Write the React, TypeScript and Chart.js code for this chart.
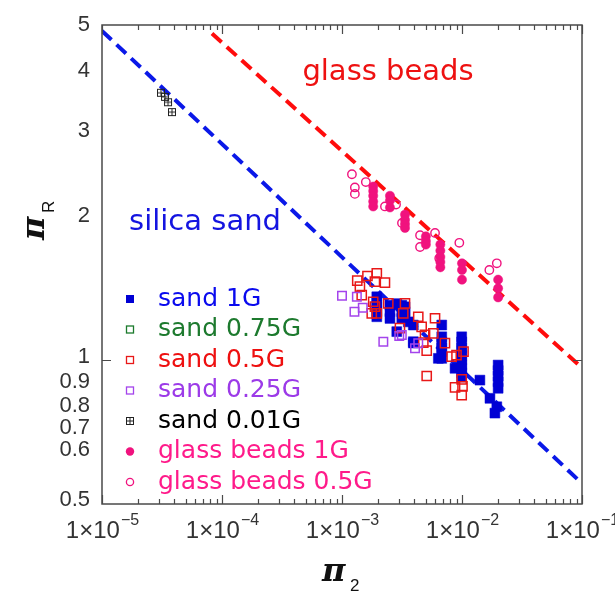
import React, { useEffect, useRef } from 'react';
import { Chart, registerables } from 'chart.js';
Chart.register(...registerables);

// ---- axis ranges / ticks ----
const X_MIN = 1e-5;
const X_MAX = 1e-1;
const Y_MIN = 0.5;
const Y_MAX = 5;
const xTickExponents = [-5, -4, -3, -2, -1];
const yTickLabels = [5, 4, 3, 2, 1, 0.9, 0.8, 0.7, 0.6, 0.5];

// ---- series ----
const sand1G_x = [1.95e-3, 1.95e-3, 1.95e-3, 1.95e-3, 1.95e-3, 2.51e-3, 2.51e-3, 2.51e-3, 2.86e-3, 2.86e-3, 3.15e-3, 3.15e-3, 3.15e-3, 3.35e-3, 3.35e-3, 3.35e-3, 3.57e-3, 3.93e-3, 3.93e-3, 3.93e-3, 6.78e-3, 6.78e-3, 6.78e-3, 6.78e-3, 6.78e-3, 6.78e-3, 6.35e-3, 9.94e-3, 9.94e-3, 9.94e-3, 9.94e-3, 9.94e-3, 9.94e-3, 9.94e-3, 9.94e-3, 9.94e-3, 9.94e-3, 8.75e-3, 1.41e-2, 2.0e-2, 2.0e-2, 2.0e-2, 2.0e-2, 2.0e-2, 1.71e-2, 1.95e-2, 1.88e-2];
const sand1G_y = [1.354, 1.32, 1.29, 1.26, 1.23, 1.30, 1.26, 1.22, 1.31, 1.145, 1.30, 1.26, 1.22, 1.29, 1.26, 1.23, 1.20, 1.182, 1.091, 1.084, 1.182, 1.117, 1.09, 1.06, 1.04, 1.007, 1.007, 1.117, 1.09, 1.06, 1.04, 1.02, 1.0, 0.975, 0.96, 0.94, 0.921, 0.96, 0.907, 0.975, 0.95, 0.925, 0.90, 0.872, 0.831, 0.798, 0.774];

const sand075G_x: number[] = [];
const sand075G_y: number[] = [];

const sand05G_x = [1.34e-3, 1.63e-3, 1.95e-3, 2.28e-3, 1.41e-3, 1.46e-3, 1.88e-3, 1.82e-3, 1.88e-3, 1.77e-3, 1.95e-3, 2.43e-3, 3.35e-3, 3.24e-3, 3.04e-3, 4.32e-3, 5.96e-3, 4.61e-3, 5.77e-3, 4.92e-3, 5.08e-3, 7.21e-3, 8.2e-3, 9.0e-3, 1.03e-2, 5.08e-3, 9.94e-3, 8.75e-3, 1.01e-2, 9.94e-3, 4.76e-3];
const sand05G_y = [1.463, 1.496, 1.516, 1.449, 1.421, 1.365, 1.456, 1.322, 1.291, 1.25, 1.25, 1.312, 1.312, 1.25, 1.164, 1.23, 1.221, 1.172, 1.136, 1.127, 1.045, 1.083, 1.015, 1.023, 1.04, 0.925, 0.91, 0.876, 0.88, 0.844, 1.086];

const sand025G_x = [1.0e-3, 1.33e-3, 1.27e-3, 1.49e-3, 2.21e-3, 3.0e-3, 4.06e-3, 4.32e-3, 3.15e-3];
const sand025G_y = [1.361, 1.354, 1.26, 1.284, 1.091, 1.121, 1.057, 1.083, 1.127];

const sand001G_x = [3.10e-5, 3.35e-5, 3.55e-5, 3.83e-5];
const sand001G_y = [3.61, 3.54, 3.45, 3.29];

const glass1G_x = [1.82e-3, 1.82e-3, 1.82e-3, 1.82e-3, 1.82e-3, 2.51e-3, 2.51e-3, 2.51e-3, 3.35e-3, 3.35e-3, 3.35e-3, 3.35e-3, 5.0e-3, 5.0e-3, 5.0e-3, 6.6e-3, 6.6e-3, 6.6e-3, 6.6e-3, 6.6e-3, 1.0e-2, 1.0e-2, 1.0e-2, 2.0e-2, 2.0e-2, 2.0e-2];
const glass1G_y = [2.30, 2.25, 2.20, 2.14, 2.09, 2.20, 2.15, 2.08, 2.01, 1.96, 1.92, 1.885, 1.81, 1.77, 1.74, 1.74, 1.69, 1.64, 1.60, 1.56, 1.59, 1.54, 1.47, 1.47, 1.41, 1.35];

const glass05G_x = [1.21e-3, 1.58e-3, 1.28e-3, 1.28e-3, 2.28e-3, 2.82e-3, 3.16e-3, 4.47e-3, 4.47e-3, 5.96e-3, 6.46e-3, 9.5e-3, 1.69e-2, 1.95e-2];
const glass05G_y = [2.44, 2.35, 2.29, 2.22, 2.09, 2.11, 1.93, 1.82, 1.72, 1.84, 1.63, 1.755, 1.54, 1.59];

// fit lines (end points)
const sandLine_x = [1e-5, 1e-1];
const sandLine_y = [4.86, 0.552];
const glassLine_x = [8.25e-5, 1e-1];
const glassLine_y = [4.8, 0.962];

const legendLabels = ['sand 1G', 'sand 0.75G', 'sand 0.5G', 'sand 0.25G', 'sand 0.01G', 'glass beads 1G', 'glass beads 0.5G'];

const pts = (xs: number[], ys: number[]) => xs.map((x, i) => ({ x, y: ys[i] }));

function boxedPlus(size: number, color: string) {
  const c = document.createElement('canvas');
  c.width = size + 2;
  c.height = size + 2;
  const g = c.getContext('2d')!;
  g.strokeStyle = color;
  g.lineWidth = 1;
  const o = 1.5;
  const s = size - 1;
  g.strokeRect(o, o, s, s);
  g.beginPath();
  g.moveTo(o + s / 2, o);
  g.lineTo(o + s / 2, o + s);
  g.moveTo(o, o + s / 2);
  g.lineTo(o + s, o + s / 2);
  g.stroke();
  return c;
}

const COL = {
  s1: '#0000d4',
  s075: '#1b7a2c',
  s05: '#e81818',
  s025: '#a444ec',
  gb: '#f0127e',
  blueLine: '#0a18e8',
  redLine: '#ff0c0c',
};
const TEXT_COL = {
  s1: '#0a0aee',
  s075: '#1d7a2e',
  s05: '#ee1010',
  s025: '#9c3ae8',
  s001: '#000000',
  gb: '#ff1a8a',
};

export default function App() {
  const ref = useRef<HTMLCanvasElement | null>(null);
  useEffect(() => {
    document.body.style.margin = '0';
    const canvas = ref.current!;
    const plusImg = boxedPlus(8, '#222');

    const legendItems = [
      { label: legendLabels[0], kind: 'rectFill', color: COL.s1, text: TEXT_COL.s1 },
      { label: legendLabels[1], kind: 'rect', color: COL.s075, text: TEXT_COL.s075 },
      { label: legendLabels[2], kind: 'rect', color: COL.s05, text: TEXT_COL.s05 },
      { label: legendLabels[3], kind: 'rect', color: COL.s025, text: TEXT_COL.s025 },
      { label: legendLabels[4], kind: 'plus', color: '#222', text: TEXT_COL.s001 },
      { label: legendLabels[5], kind: 'circFill', color: COL.gb, text: TEXT_COL.gb },
      { label: legendLabels[6], kind: 'circ', color: COL.gb, text: TEXT_COL.gb },
    ];

    const decor = {
      id: 'decor',
      afterDatasetsDraw(chart: any) {
        const { ctx, chartArea, scales } = chart;
        const { left, right, top, bottom } = chartArea;
        const xs = scales.x;
        const ys = scales.y;
        ctx.save();
        // frame
        ctx.strokeStyle = '#4a4a4a';
        ctx.lineWidth = 1.5;
        ctx.strokeRect(left, top, right - left, bottom - top);
        // x ticks (inward, top & bottom)
        ctx.lineWidth = 1.2;
        ctx.beginPath();
        for (const e of xTickExponents) {
          for (let m = 1; m <= 9; m++) {
            const v = m * Math.pow(10, e);
            if (v > X_MAX * 1.0001) break;
            const px = Math.round(xs.getPixelForValue(v)) + 0.5;
            const len = m === 1 ? 9 : 5;
            ctx.moveTo(px, bottom);
            ctx.lineTo(px, bottom - len);
            ctx.moveTo(px, top);
            ctx.lineTo(px, top + len);
          }
        }
        // y tick at 1
        const p1 = Math.round(ys.getPixelForValue(1)) + 0.5;
        ctx.moveTo(left, p1);
        ctx.lineTo(left + 9, p1);
        ctx.moveTo(right, p1);
        ctx.lineTo(right - 9, p1);
        ctx.stroke();

        // y tick labels (small-value labels are stacked evenly below "0.8" as in the source figure)
        ctx.fillStyle = '#333';
        ctx.font = '22px "Liberation Sans", Arial, sans-serif';
        ctx.textAlign = 'right';
        ctx.textBaseline = 'middle';
        const p08 = ys.getPixelForValue(0.8);
        for (const v of yTickLabels) {
          let py = ys.getPixelForValue(v);
          if (v === 0.7) py = p08 + 22;
          if (v === 0.6) py = p08 + 44;
          if (v === 0.5) py = bottom - 4;
          if (v === 1) py -= 3;
          ctx.fillText(String(v), left - 12, py);
        }
        // x tick labels 1x10^e
        for (const e of xTickExponents) {
          const px = xs.getPixelForValue(Math.pow(10, e));
          ctx.font = '24px "Liberation Sans", Arial, sans-serif';
          const main = '1\u00d710';
          const w1 = ctx.measureText(main).width;
          ctx.font = '16px "Liberation Sans", Arial, sans-serif';
          const sup = '\u2212' + String(-e);
          const w2 = ctx.measureText(sup).width;
          const x0 = px - (w1 + w2) / 2;
          ctx.textAlign = 'left';
          ctx.font = '24px "Liberation Sans", Arial, sans-serif';
          ctx.fillText(main, x0, bottom + 27);
          ctx.font = '16px "Liberation Sans", Arial, sans-serif';
          ctx.fillText(sup, x0 + w1 + 1, bottom + 17);
        }

        // axis titles
        ctx.fillStyle = '#111';
        ctx.textAlign = 'left';
        ctx.font = 'italic bold 32px "DejaVu Serif", serif';
        ctx.fillText('\u03c0', 322, 573);
        ctx.font = '17px "Liberation Sans", Arial, sans-serif';
        ctx.fillText('2', 350, 586);
        ctx.save();
        ctx.translate(36, 240);
        ctx.rotate(-Math.PI / 2);
        ctx.font = 'italic bold 32px "DejaVu Serif", serif';
        ctx.fillText('\u03c0', 0, 0);
        ctx.font = '17px "Liberation Sans", Arial, sans-serif';
        ctx.fillText('R', 27, 13);
        ctx.restore();

        // annotations
        ctx.textAlign = 'center';
        ctx.textBaseline = 'middle';
        ctx.font = '29px "DejaVu Sans", sans-serif';
        ctx.fillStyle = '#ee1111';
        ctx.fillText('glass beads', 388, 72);
        ctx.fillStyle = '#1414e0';
        ctx.fillText('silica sand', 205, 222);

        // legend
        const rowY0 = 299;
        const rowH = 30.5;
        legendItems.forEach((it, i) => {
          const y = rowY0 + i * rowH;
          const mx = 130;
          ctx.lineWidth = 1.3;
          if (it.kind === 'rectFill') {
            ctx.fillStyle = it.color;
            ctx.fillRect(mx - 4, y - 4, 8, 8);
          } else if (it.kind === 'rect') {
            ctx.strokeStyle = it.color;
            ctx.strokeRect(mx - 3.5, y - 3.5, 7, 7);
          } else if (it.kind === 'plus') {
            ctx.drawImage(plusImg, mx - 5, y - 5);
          } else if (it.kind === 'circFill') {
            ctx.fillStyle = it.color;
            ctx.beginPath();
            ctx.arc(mx, y, 4.2, 0, Math.PI * 2);
            ctx.fill();
          } else {
            ctx.strokeStyle = it.color;
            ctx.beginPath();
            ctx.arc(mx, y, 3.6, 0, Math.PI * 2);
            ctx.stroke();
          }
          ctx.fillStyle = it.text;
          ctx.textAlign = 'left';
          ctx.textBaseline = 'middle';
          ctx.font = '25px "DejaVu Sans", sans-serif';
          ctx.fillText(it.label, 158, y);
        });
        ctx.restore();
      },
    };

    const chart = new Chart(canvas, {
      type: 'scatter',
      data: {
        datasets: [
          { label: 'sand fit', data: pts(sandLine_x, sandLine_y), showLine: true, borderColor: COL.blueLine, borderWidth: 4, borderDash: [13, 7], pointRadius: 0, order: 10 } as any,
          { label: 'glass fit', data: pts(glassLine_x, glassLine_y), showLine: true, borderColor: COL.redLine, borderWidth: 4, borderDash: [13, 7], pointRadius: 0, order: 10 } as any,
          { label: legendLabels[0], data: pts(sand1G_x, sand1G_y), pointStyle: 'rect', pointRadius: 7, backgroundColor: COL.s1, borderColor: COL.s1, borderWidth: 0.5, order: 5 },
          { label: legendLabels[1], data: pts(sand075G_x, sand075G_y), pointStyle: 'rect', pointRadius: 6.5, backgroundColor: 'rgba(0,0,0,0)', borderColor: COL.s075, borderWidth: 1.5, order: 4 },
          { label: legendLabels[2], data: pts(sand05G_x, sand05G_y), pointStyle: 'rect', pointRadius: 6.5, backgroundColor: 'rgba(0,0,0,0)', borderColor: COL.s05, borderWidth: 1.5, order: 3 },
          { label: legendLabels[3], data: pts(sand025G_x, sand025G_y), pointStyle: 'rect', pointRadius: 6, backgroundColor: 'rgba(0,0,0,0)', borderColor: COL.s025, borderWidth: 1.5, order: 2 },
          { label: legendLabels[4], data: pts(sand001G_x, sand001G_y), pointStyle: plusImg as any, pointRadius: 5, order: 1 },
          { label: legendLabels[5], data: pts(glass1G_x, glass1G_y), pointStyle: 'circle', pointRadius: 4.6, backgroundColor: COL.gb, borderColor: COL.gb, borderWidth: 0.5, order: 6 },
          { label: legendLabels[6], data: pts(glass05G_x, glass05G_y), pointStyle: 'circle', pointRadius: 4.2, backgroundColor: 'rgba(0,0,0,0)', borderColor: COL.gb, borderWidth: 1.4, order: 7 },
        ],
      },
      options: {
        animation: false,
        responsive: false,
        devicePixelRatio: 1,
        layout: { padding: { top: 25, right: 33, left: 0, bottom: 0 } },
        plugins: { legend: { display: false }, tooltip: { enabled: false } },
        scales: {
          x: {
            type: 'logarithmic',
            min: X_MIN,
            max: X_MAX,
            grid: { display: false },
            border: { display: false },
            ticks: { display: false },
            afterFit: (s: any) => { s.height = 92; },
          },
          y: {
            type: 'logarithmic',
            min: Y_MIN,
            max: Y_MAX,
            grid: { display: false },
            border: { display: false },
            ticks: { display: false },
            afterFit: (s: any) => { s.width = 102; },
          },
        },
      },
      plugins: [decor],
    } as any);
    return () => chart.destroy();
  }, []);
  return (
    <div style={{ width: 615, height: 596, background: '#fff' }}>
      <canvas ref={ref} width={615} height={596} style={{ display: 'block' }} />
    </div>
  );
}
